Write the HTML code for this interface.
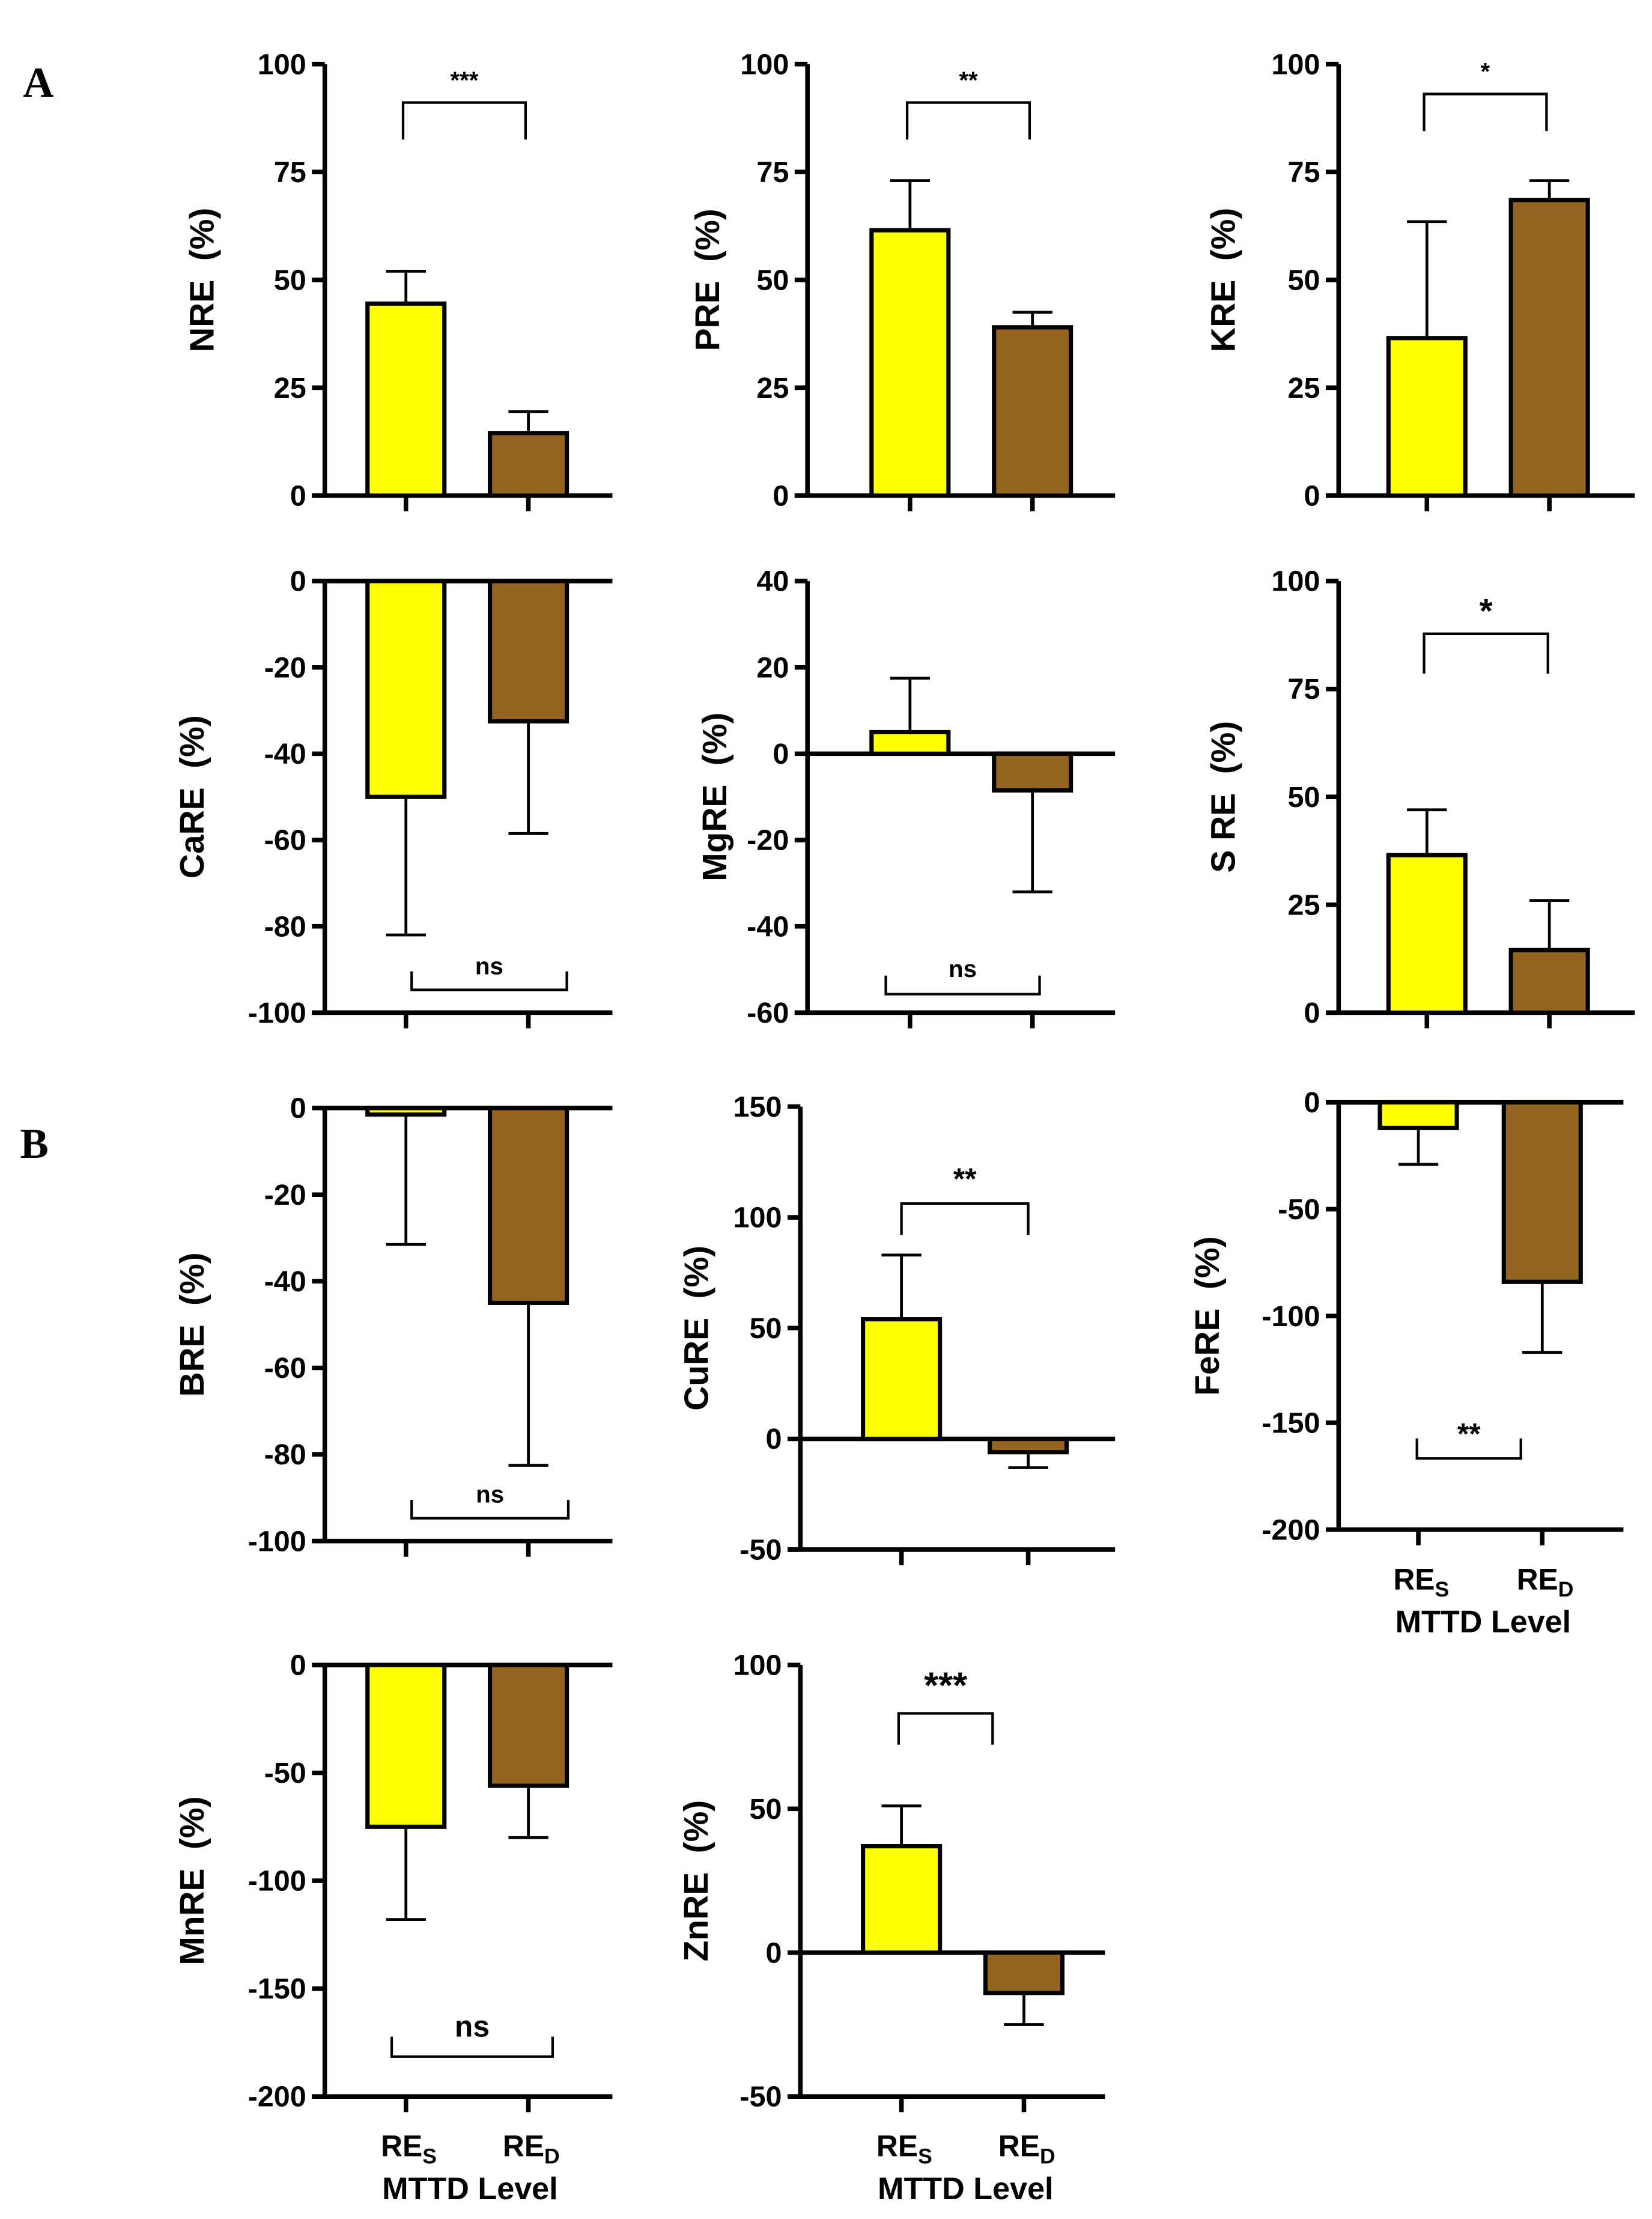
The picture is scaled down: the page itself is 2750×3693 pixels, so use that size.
<!DOCTYPE html>
<html><head><meta charset="utf-8"><style>
html,body{margin:0;padding:0;background:#fff}
svg{display:block}
text{font-family:"Liberation Sans",Arial,sans-serif;font-weight:bold;fill:#000}
</style></head><body>
<svg id="fig" width="2750" height="3693" viewBox="0 0 1160 1558" xmlns="http://www.w3.org/2000/svg">
<text x="16" y="68" style="font-family:'Liberation Serif',serif;font-size:30px">A</text>
<text x="14" y="813" style="font-family:'Liberation Serif',serif;font-size:30px">B</text>
</svg>
<script>
const panelNames = ["NRE","PRE","KRE","CaRE","MgRE","S RE","BRE","CuRE","FeRE","MnRE","ZnRE"];
const categories = ["RES","RED"];
const meanRES = [44.5, 61.5, 36.5, -50, 5, 36.5, -1.5, 54, -12, -75, 37];
const meanRED = [14.5, 39, 68.5, -32.5, -8.5, 14.5, -45, -6, -84, -56, -14];
const errRES = [52, 73, 63.5, -82, 17.5, 47, -31.5, 83, -29, -118, 51];
const errRED = [19.5, 42.5, 73, -58.5, -32, 26, -82.5, -13, -117, -80, -25];
const yMax = [100,100,100,0,40,100,0,150,0,0,100];
const yMin = [0,0,0,-100,-60,0,-100,-50,-200,-200,-50];
const tickLabels = [
 [0,25,50,75,100],[0,25,50,75,100],[0,25,50,75,100],
 [0,-20,-40,-60,-80,-100],[40,20,0,-20,-40,-60],[0,25,50,75,100],
 [0,-20,-40,-60,-80,-100],[150,100,50,0,-50],[0,-50,-100,-150,-200],
 [0,-50,-100,-150,-200],[100,50,0,-50]];
const sigLabels = ["***","**","*","ns","ns","*","ns","**","**","ns","***"];

const layout = [
 {ax:228,top:45,bot:348,x1:285,x2:371,end:430,lab:150,br:72,leg:98,st:62,fs:17},
 {ax:567,top:45,bot:348,x1:639,x2:725,end:783,lab:505,br:72,leg:98,st:62,fs:17},
 {ax:940,top:45,bot:348,x1:1002,x2:1088,end:1148,lab:867,br:66,leg:92,st:56,fs:17},
 {ax:228,top:408,bot:711,x1:285,x2:371,end:430,lab:143,br:695,leg:682,st:684,fs:17,b1:289,b2:398},
 {ax:567,top:408,bot:711,x1:639,x2:725,end:783,lab:510,br:698,leg:685,st:686,fs:17,b1:622,b2:730},
 {ax:940,top:408,bot:711,x1:1002,x2:1088,end:1148,lab:867,br:445,leg:473,st:437,fs:24,b1:1000,b2:1087},
 {ax:228,top:778,bot:1082,x1:285,x2:371,end:430,lab:143,br:1066,leg:1053,st:1055,fs:17,b1:289,b2:399},
 {ax:562,top:777,bot:1088,x1:633,x2:722,end:783,lab:497,br:845,leg:867,st:835,fs:21,b1:633,b2:722},
 {ax:940,top:774,bot:1074,x1:996,x2:1083,end:1140,lab:856,br:1024,leg:1010,st:1014,fs:21,b1:995,b2:1068},
 {ax:228,top:1169,bot:1472,x1:285,x2:371,end:430,lab:143,br:1444,leg:1430,st:1430,fs:21,b1:275,b2:388},
 {ax:562,top:1169,bot:1472,x1:633,x2:719,end:776,lab:497,br:1203,leg:1225,st:1192,fs:26,b1:631,b2:697}
];
const xLabelPanels = [8,9,10];
const svg = document.getElementById('fig');
const NS = 'http://www.w3.org/2000/svg';
function mk(tag, attrs, parent){const e=document.createElementNS(NS,tag);for(const k in attrs)e.setAttribute(k,attrs[k]);(parent||svg).appendChild(e);return e;}

panelNames.forEach((nm,i)=>{
  const L = layout[i];
  const g = mk('g',{});
  
  
  const y = v => L.top + (yMax[i]-v)/(yMax[i]-yMin[i])*(L.bot-L.top);
  const ya = mk('line',{x1:L.ax,y1:L.top,x2:L.ax,y2:L.bot,stroke:'#000','stroke-width':3.2},g);
  
  
  tickLabels[i].forEach(t=>{
    const ty=y(t);
    const tk = mk('line',{x1:L.ax-9,y1:ty,x2:L.ax,y2:ty,stroke:'#000','stroke-width':3.2},g);
    
    
    const tl = mk('text',{x:L.ax-13,y:ty+7,'text-anchor':'end','font-size':20.5},g);
    tl.textContent = t;
    
    
  });
  const xa = mk('line',{x1:L.ax-9,y1:L.bot,x2:L.end,y2:L.bot,stroke:'#000','stroke-width':3.2},g);
  
  
  [L.x1,L.x2].forEach(xx=>{
    const tk = mk('line',{x1:xx,y1:L.bot,x2:xx,y2:L.bot+11,stroke:'#000','stroke-width':3.2},g);
    
    
  });
  const z = y(0);
  if (yMin[i] < 0) {
    const zl = mk('line',{x1:L.ax,y1:z,x2:L.end,y2:z,stroke:'#000','stroke-width':3.2},g);
    
    
  }
  const vals=[meanRES[i],meanRED[i]], errs=[errRES[i],errRED[i]], cols=['#FFFF00','#946320'];
  [L.x1,L.x2].forEach((cx,j)=>{
    const v=vals[j], yv=y(v), e=y(errs[j]);
    const eb = mk('line',{x1:cx,y1:yv,x2:cx,y2:e,stroke:'#000','stroke-width':2},g);
    
    
    const cap = mk('line',{x1:cx-14,y1:e,x2:cx+14,y2:e,stroke:'#000','stroke-width':2},g);
    
    
    const r = mk('rect',{x:cx-27,y:Math.min(yv,z),width:54,height:Math.max(Math.abs(z-yv),1),fill:cols[j],stroke:'#000','stroke-width':3},g);
    
    
  });
  const b1 = L.b1!==undefined?L.b1:L.x1-2, b2 = L.b2!==undefined?L.b2:L.x2-2;
  const br = mk('path',{d:`M${b1},${L.leg} L${b1},${L.br} L${b2},${L.br} L${b2},${L.leg}`,fill:'none',stroke:'#000','stroke-width':1.8},g);
  
  
  const st = mk('text',{x:(b1+b2)/2,y:L.st,'text-anchor':'middle','font-size':L.fs},g);
  st.textContent = sigLabels[i];
  if (sigLabels[i]==='ns') st.setAttribute('font-weight','normal');
  
  
  const cy=(L.top+L.bot)/2;
  const yt = mk('text',{x:L.lab,y:cy,'text-anchor':'middle','font-size':24,transform:`rotate(-90 ${L.lab} ${cy})`},g);
  yt.textContent = nm + '  (%)';
  yt.style.whiteSpace='pre';
  
  
  if (xLabelPanels.includes(i)) {
    [[L.x1,'S'],[L.x2,'D']].forEach(([cx,s])=>{
      const t = mk('text',{x:cx+2,y:L.bot+42,'text-anchor':'middle','font-size':21,'font-weight':'normal'},g);
      t.innerHTML = 'RE<tspan font-size="15" dy="5" font-weight="bold">'+s+'</tspan>';
      
      
    });
    const xt = mk('text',{x:(L.x1+L.x2)/2+2,y:L.bot+72,'text-anchor':'middle','font-size':22},g);
    xt.textContent = 'MTTD Level';
    
    
  }
});
</script>
</body></html>
